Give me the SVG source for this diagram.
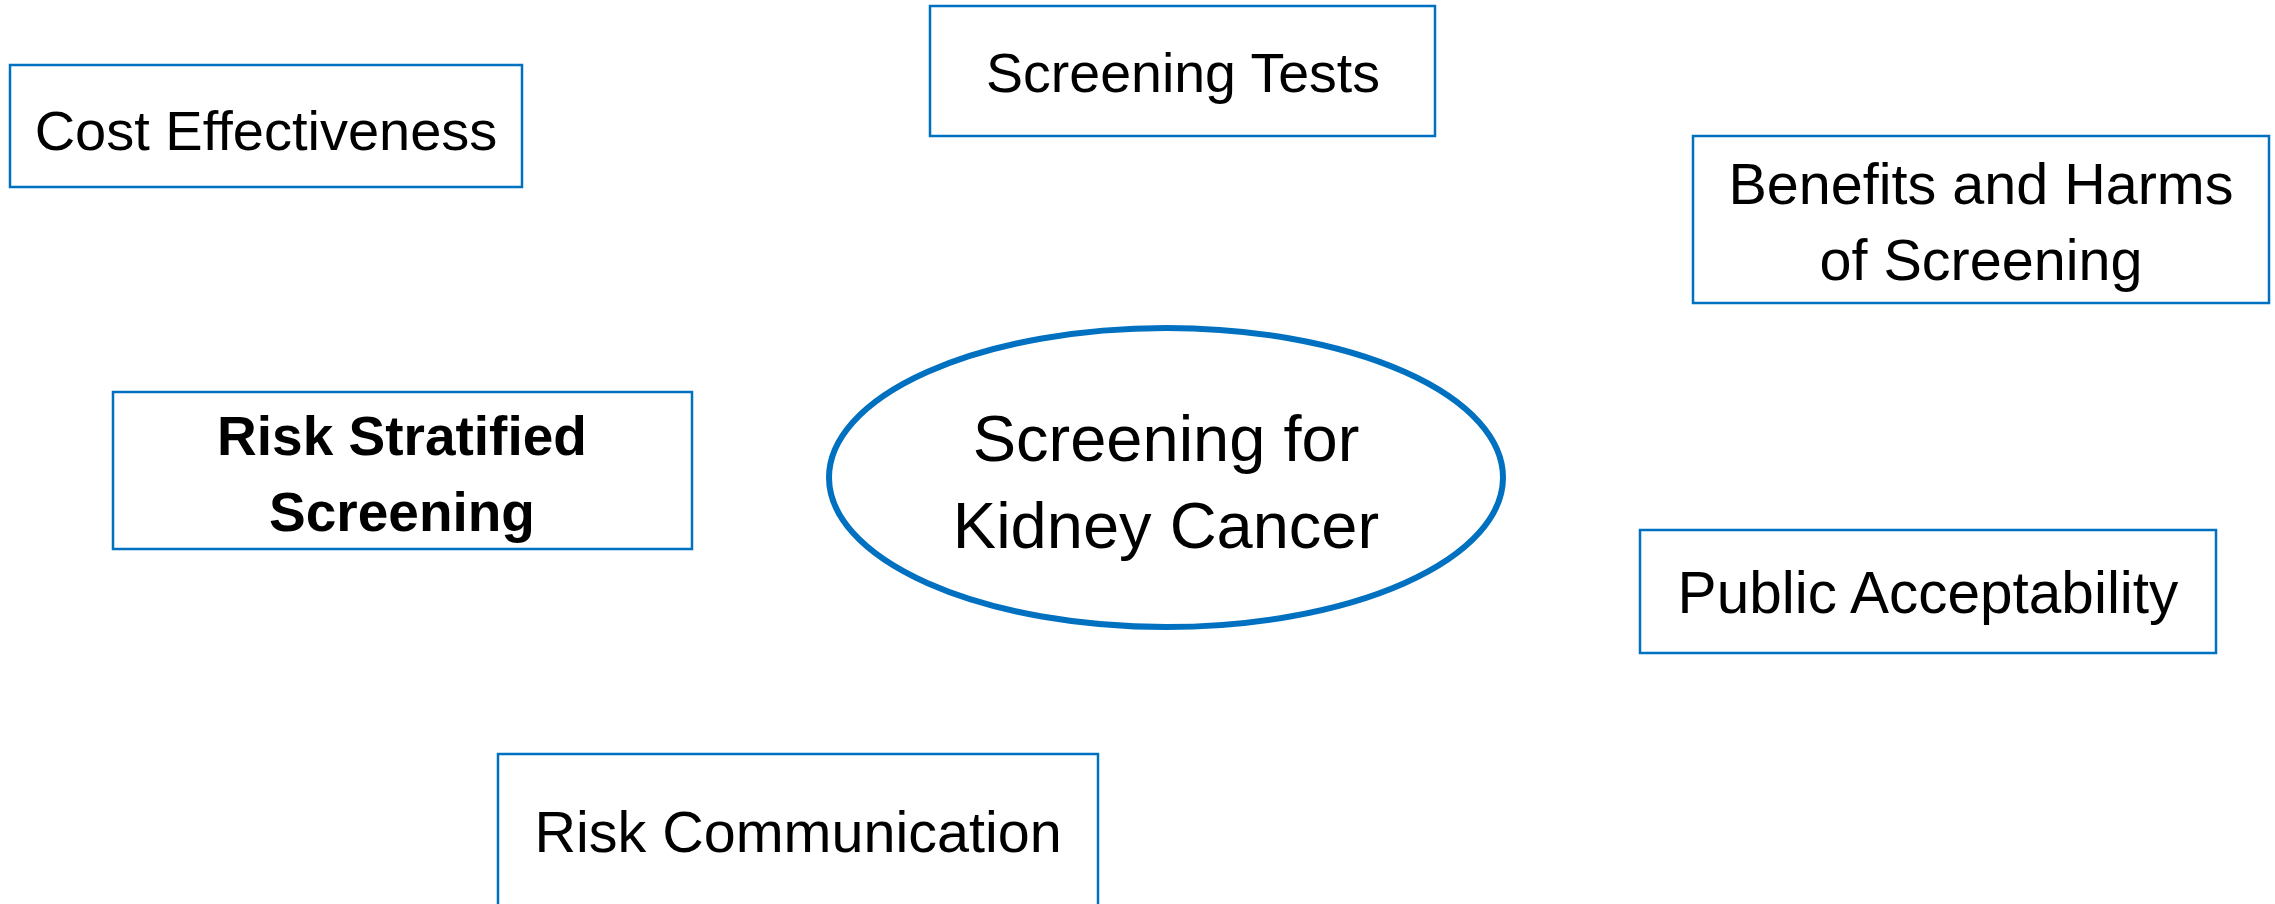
<svg xmlns="http://www.w3.org/2000/svg" width="2275" height="904" viewBox="0 0 2275 904">
<style>
.box{fill:#fff;stroke:#0070C0;stroke-width:2.5}
.ell{fill:#fff;stroke:#0070C0;stroke-width:6}
.t{font-family:"Liberation Sans",Arial,sans-serif;font-size:55px;fill:#000;text-anchor:middle}
.b{font-weight:bold}
.big{font-size:65px}
</style>
<rect width="2275" height="904" fill="#fff"/>
<g id="connectors"></g>
<g id="cost">
<rect class="box" x="10" y="65" width="512" height="122"/>
<text class="t" x="266" y="150" style="font-size:56px">Cost Effectiveness</text>
</g>
<g id="tests">
<rect class="box" x="930" y="6" width="505" height="130"/>
<text class="t" x="1183" y="92" style="font-size:55.5px">Screening Tests</text>
</g>
<g id="benefits">
<rect class="box" x="1693" y="136" width="576" height="167"/>
<text class="t" x="1981" y="204" style="font-size:57.5px">Benefits and Harms</text>
<text class="t" x="1981" y="280" style="font-size:57.5px">of Screening</text>
</g>
<g id="risk-stratified">
<rect class="box" x="113" y="392" width="579" height="157"/>
<text class="t b" x="402" y="455">Risk Stratified</text>
<text class="t b" x="402" y="531">Screening</text>
</g>
<g id="center">
<ellipse class="ell" cx="1166" cy="477.5" rx="337" ry="149.5"/>
<text class="t big" x="1166" y="461">Screening for</text>
<text class="t big" x="1166" y="548">Kidney Cancer</text>
</g>
<g id="public">
<rect class="box" x="1640" y="530" width="576" height="123"/>
<text class="t" x="1928" y="613" style="font-size:58.5px">Public Acceptability</text>
</g>
<g id="risk-comm">
<rect class="box" x="498" y="754" width="600" height="170"/>
<text class="t" x="798" y="852" style="font-size:57.5px">Risk Communication</text>
</g>
</svg>
